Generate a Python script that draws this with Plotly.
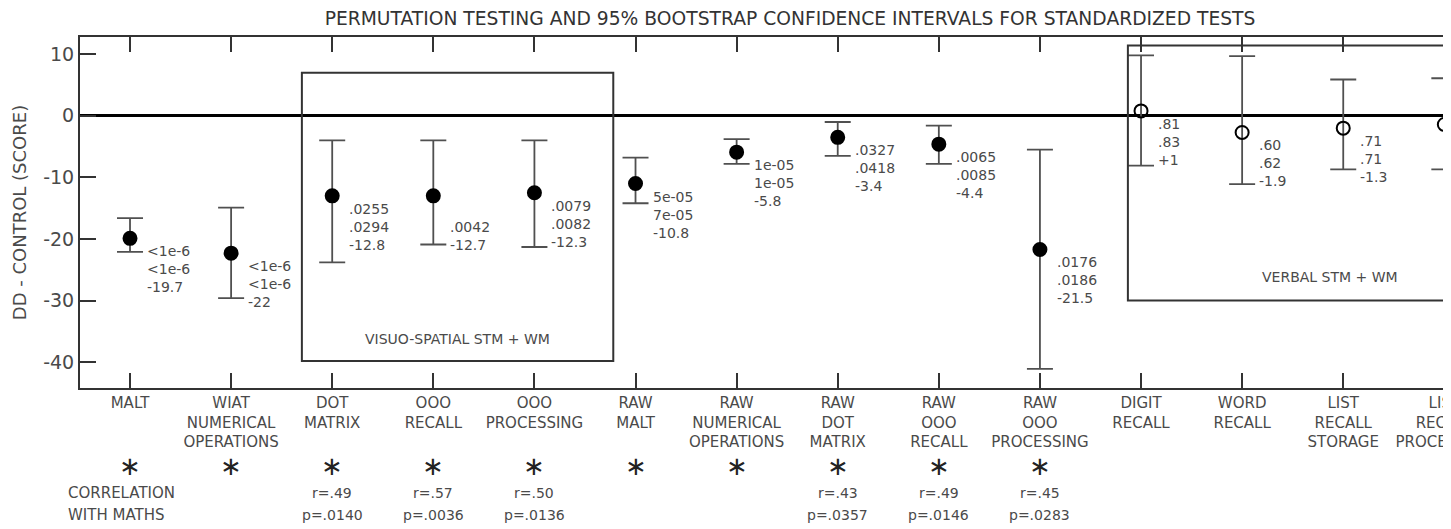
import plotly.graph_objects as go

# tests, in plotting order
categories = ["MALT", "WIAT<br>NUMERICAL<br>OPERATIONS", "DOT<br>MATRIX", "OOO<br>RECALL",
              "OOO<br>PROCESSING", "RAW<br>MALT", "RAW<br>NUMERICAL<br>OPERATIONS",
              "RAW<br>DOT<br>MATRIX", "RAW<br>OOO<br>RECALL", "RAW<br>OOO<br>PROCESSING",
              "DIGIT<br>RECALL", "WORD<br>RECALL", "LIST<br>RECALL<br>STORAGE",
              "LIST<br>RECALL<br>PROCESSING"]

# DD - control difference and 95% bootstrap CI
mean = [-19.9, -22.3, -13.0, -13.0, -12.5, -11.0, -5.9, -3.5, -4.6, -21.7, 0.8, -2.7, -2.0, -1.4]
ci_lo = [-22.1, -29.6, -23.8, -20.9, -21.3, -14.2, -7.8, -6.5, -7.8, -41.1, -8.1, -11.1, -8.7, -8.7]
ci_hi = [-16.6, -14.9, -4.0, -4.0, -4.0, -6.8, -3.8, -1.0, -1.6, -5.5, 9.8, 9.7, 5.9, 6.1]
significant = [True] * 10 + [False] * 4

# text printed beside each point
p_perm = ["<1e-6", "<1e-6", ".0255", "\u00a0", ".0079", "5e-05", "1e-05", ".0327", ".0065", ".0176",
          ".81", ".60", ".71", ""]
p_boot = ["<1e-6", "<1e-6", ".0294", ".0042", ".0082", "7e-05", "1e-05", ".0418", ".0085", ".0186",
          ".83", ".62", ".71", ""]
diff_txt = ["-19.7", "-22", "-12.8", "-12.7", "-12.3", "-10.8", "-5.8", "-3.4", "-4.4", "-21.5",
            "+1", "-1.9", "-1.3", ""]

# correlation with maths
corr_r = ["", "", "r=.49", "r=.57", "r=.50", "", "", "r=.43", "r=.49", "r=.45", "", "", "", ""]
corr_p = ["", "", "p=.0140", "p=.0036", "p=.0136", "", "", "p=.0357", "p=.0146", "p=.0283", "", "", "", ""]

ytick_vals = [-40, -30, -20, -10, 0, 10]
ytick_text = ["-40", "-30", "-20", "-10", "0", "10"]

FONT = "DejaVu Sans"
GREY = "#4a4a4a"

fig = go.Figure()
fig.add_trace(go.Scatter(
    x=categories, y=mean, mode="markers",
    marker=dict(symbol=["circle" if s else "circle-open" for s in significant],
                color="black", size=13, line=dict(width=2, color="black")),
    error_y=dict(type="data", symmetric=False,
                 array=[h - m for h, m in zip(ci_hi, mean)],
                 arrayminus=[m - l for m, l in zip(mean, ci_lo)],
                 color="#505050", thickness=1.8, width=13),
    cliponaxis=False, showlegend=False,
))

# group boxes
fig.add_shape(type="rect", xref="x", yref="y", x0=1.70, x1=4.78, y0=-39.8, y1=7.0,
              line=dict(color="#333", width=2))
fig.add_shape(type="rect", xref="x", yref="y", x0=9.87, x1=14.5, y0=-30.0, y1=11.4,
              line=dict(color="#333", width=2))
fig.add_annotation(x=3.24, y=-36.2, text="VISUO-SPATIAL STM + WM", showarrow=False,
                   font=dict(family=FONT, size=14, color=GREY))
fig.add_annotation(x=11.87, y=-26.2, text="VERBAL STM + WM", showarrow=False,
                   font=dict(family=FONT, size=14, color=GREY))

for i, c in enumerate(categories):
    lines = [t for t in (p_perm[i], p_boot[i], diff_txt[i]) if t]
    if lines:
        fig.add_annotation(x=c, y=mean[i], text="<br>".join(lines), showarrow=False,
                           xanchor="left", yanchor="middle", align="left",
                           xshift=15, yshift=-31,
                           font=dict(family=FONT, size=14, color=GREY))
    if significant[i]:
        fig.add_annotation(x=c, xref="x", y=-0.222, yref="paper", text="\u2217", showarrow=False,
                           yanchor="middle",
                           font=dict(family=FONT, size=26, color="#222"))
    if corr_r[i]:
        fig.add_annotation(x=c, xref="x", y=-0.299, yref="paper", text=corr_r[i],
                           showarrow=False, yanchor="middle",
                           font=dict(family=FONT, size=14, color=GREY))
        fig.add_annotation(x=c, xref="x", y=-0.362, yref="paper", text=corr_p[i],
                           showarrow=False, yanchor="middle",
                           font=dict(family=FONT, size=14, color=GREY))

fig.add_annotation(x=-0.0102, xref="paper", y=-0.299, yref="paper", text="CORRELATION",
                   showarrow=False, xanchor="left", yanchor="middle",
                   font=dict(family=FONT, size=15, color=GREY))
fig.add_annotation(x=-0.0102, xref="paper", y=-0.362, yref="paper", text="WITH MATHS",
                   showarrow=False, xanchor="left", yanchor="middle",
                   font=dict(family=FONT, size=15, color=GREY))

# the page body adds an 8px offset, so margins are set 8px smaller
fig.update_layout(
    width=1451, height=529,
    margin=dict(l=72, r=0, t=29, b=149),
    paper_bgcolor="white", plot_bgcolor="white",
    font=dict(family=FONT, color=GREY),
    title=dict(text="PERMUTATION TESTING AND 95% BOOTSTRAP CONFIDENCE INTERVALS FOR STANDARDIZED TESTS",
               x=782 / 1451, xanchor="center", y=1 - 10 / 529, yanchor="middle",
               font=dict(family=FONT, size=18.7, color="#333")),
)
fig.update_xaxes(
    type="category", range=[-0.4946, 13.145], automargin=False,
    showline=True, linecolor="#333", linewidth=2, mirror="ticks",
    ticks="inside", ticklen=15, tickwidth=2, tickcolor="#333",
    showgrid=False, zeroline=False,
    tickfont=dict(family=FONT, size=15, color=GREY),
)
fig.update_yaxes(
    range=[-44.2, 12.8], tickvals=ytick_vals, ticktext=ytick_text, automargin=False,
    showline=True, linecolor="#333", linewidth=2, mirror=False,
    ticks="inside", ticklen=16, tickwidth=2, tickcolor="#333",
    showgrid=False, zeroline=True, zerolinecolor="black", zerolinewidth=3,
    tickfont=dict(family=FONT, size=19, color=GREY),
    title=dict(text="DD - CONTROL (SCORE)", standoff=12,
               font=dict(family=FONT, size=18, color=GREY)),
)

fig.write_html("out.html")
